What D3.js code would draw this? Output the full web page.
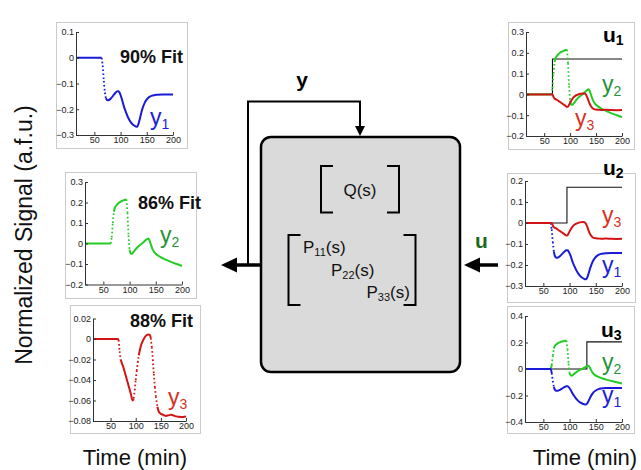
<!DOCTYPE html>
<html lang="en">
<head>
<meta charset="UTF-8">
<title>Model fits and block diagram</title>
<script src="https://cdn.jsdelivr.net/npm/d3@7"></script>
<style>
  body { margin: 0; background: #fff; }
  svg { display: block; font-family: "Liberation Sans", Arial, Helvetica, sans-serif; }
</style>
</head>
<body>
<div id="figure"></div>
<script>
// ---------------------------------------------------------------- data
// sampled time (min) and the three normalized outputs read off the plots
var time = [15, 40, 64, 66, 68, 70, 72, 75, 78, 82, 86, 90, 94, 96, 98, 100, 102, 104, 106, 110,
            115, 120, 125, 128, 130, 132, 134, 136, 138, 140, 143, 146, 150, 155, 160, 165, 170, 180, 190, 200];
var y1 = [0, 0, 0, -0.03, -0.09, -0.135, -0.157, -0.165, -0.164, -0.157, -0.147, -0.137, -0.13, -0.13, -0.135, -0.145, -0.157, -0.172, -0.187, -0.21,
          -0.235, -0.252, -0.262, -0.266, -0.268, -0.267, -0.258, -0.243, -0.226, -0.21, -0.19, -0.175, -0.162, -0.152, -0.147, -0.145, -0.144, -0.143, -0.143, -0.143];
var y2 = [0, 0, 0, 0.03, 0.1, 0.155, 0.175, 0.186, 0.195, 0.203, 0.208, 0.212, 0.215, 0.15, 0.04, -0.03, -0.048, -0.05, -0.046, -0.033,
          -0.018, -0.007, 0.003, 0.01, 0.015, 0.019, 0.023, 0.025, 0.015, 0, -0.022, -0.038, -0.05, -0.06, -0.068, -0.074, -0.08, -0.091, -0.1, -0.11];
var y3 = [0, 0, 0, -0.001, -0.012, -0.02, -0.023, -0.027, -0.032, -0.039, -0.046, -0.053, -0.06, -0.058, -0.05, -0.04, -0.031, -0.023, -0.016, -0.007,
          -0.001, 0.003, 0.0045, 0.004, 0.001, -0.008, -0.02, -0.034, -0.047, -0.056, -0.066, -0.071, -0.073, -0.074, -0.075, -0.0745, -0.074, -0.0755, -0.076, -0.0755];

// step inputs
var u1Time = [15, 66, 66, 200], u1 = [0, 0, 0.17, 0.17];
var u2Time = [15, 95, 95, 200], u2 = [0, 0, 0.17, 0.17];
var u3Time = [15, 133, 133, 200], u3 = [0, 0, 0.205, 0.205];

var fitLabels = ["90% Fit", "86% Fit", "88% Fit"];
var timeTicks = [50, 100, 150, 200];
var ticksL1 = [-0.3, -0.2, -0.1, 0, 0.1];
var ticksL2 = [-0.2, -0.1, 0, 0.1, 0.2, 0.3];
var ticksL3 = [-0.08, -0.06, -0.04, -0.02, 0, 0.02];
var ticksR1 = [-0.2, -0.1, 0, 0.1, 0.2, 0.3];
var ticksR2 = [-0.3, -0.2, -0.1, 0, 0.1, 0.2];
var ticksR3 = [-0.4, -0.2, 0, 0.2, 0.4];

// ---------------------------------------------------------------- setup
var W = 641, H = 470;
var svg = d3.select("#figure").append("svg").attr("width", W).attr("height", H);

var series = { y1: y1, y2: y2, y3: y3 };
var lineColor = { y1: "#1a1ad8", y2: "#25cc25", y3: "#d21414" };
var tagColor = { y1: "#2020dd", y2: "#23943a", y3: "#d8321f" };

var panels = [
  { frame: [56, 22, 187, 148], xr: [76, 173], yd: [-0.3, 0.1], yr: [135, 32], ticks: ticksL1,
    lines: ["y1"], fit: [fitLabels[0], 120, 62.5], tags: [["y1", 150, 124.5]] },
  { frame: [65, 172, 196, 298], xr: [85, 182], yd: [-0.2, 0.3], yr: [284.5, 182], ticks: ticksL2,
    lines: ["y2"], fit: [fitLabels[1], 138, 209], tags: [["y2", 160, 242.5]] },
  { frame: [70, 305, 200, 433], xr: [93, 186], yd: [-0.08, 0.02], yr: [421, 318.5], ticks: ticksL3,
    lines: ["y3"], fit: [fitLabels[2], 130, 327], tags: [["y3", 168, 405]] },
  { frame: [508, 22, 634, 149], xr: [526, 622], yd: [-0.2, 0.3], yr: [136, 32], ticks: ticksR1,
    input: [u1Time, u1, "u", "1", 603, 41.5], lines: ["y2", "y3"], tags: [["y2", 602, 92], ["y3", 575, 125.5]] },
  { frame: [507, 173, 635, 302], xr: [525, 622], yd: [-0.3, 0.2], yr: [286, 181], ticks: ticksR2,
    input: [u2Time, u2, "u", "2", 603, 175], lines: ["y1", "y3"], tags: [["y3", 602, 223], ["y1", 602, 273]] },
  { frame: [507, 306, 634, 433], xr: [525, 622], yd: [-0.4, 0.4], yr: [422, 316], ticks: ticksR3,
    input: [u3Time, u3, "u", "3", 601, 336.5], lines: ["y2", "y1"], tags: [["y2", 602, 370], ["y1", 602, 403]] }
];

var fmt = function(d) { return d === 0 ? "0" : d3.format("~g")(d); };

function subText(g, x, y, main, sub, size, subSize, color, weight, shift) {
  var t = g.append("text")
    .attr("x", x).attr("y", y)
    .attr("fill", color)
    .style("font-size", size + "px")
    .style("font-weight", weight)
    .text(main);
  t.append("tspan")
    .attr("dy", shift)
    .style("font-size", subSize + "px")
    .text(sub);
  return t;
}

// ---------------------------------------------------------------- panels
panels.forEach(function(p) {
  var g = svg.append("g");
  var x = d3.scaleLinear().domain([15, 200]).range(p.xr);
  var y = d3.scaleLinear().domain(p.yd).range(p.yr);

  g.append("rect")
    .attr("x", p.frame[0] + 0.5).attr("y", p.frame[1] + 0.5)
    .attr("width", p.frame[2] - p.frame[0]).attr("height", p.frame[3] - p.frame[1])
    .attr("fill", "#fff").attr("stroke", "#cbcbcb");

  // input step
  if (p.input) {
    var inp = p.input[0].map(function(t, i) { return [t, p.input[1][i]]; });
    g.append("path")
      .attr("d", d3.line().x(function(d) { return x(d[0]); }).y(function(d) { return y(d[1]); })(inp))
      .attr("fill", "none").attr("stroke", "#111").attr("stroke-width", 1.1);
  }

  // outputs: steep stretches drawn as spaced dots, the rest solid
  p.lines.forEach(function(key) {
    var pts = time.map(function(t, i) { return [x(t), y(series[key][i])]; });
    var runs = [], cur = [pts[0]], dotted = [];
    for (var i = 1; i < pts.length; i++) {
      var dx = pts[i][0] - pts[i - 1][0], dy = Math.abs(pts[i][1] - pts[i - 1][1]);
      if (dy / dx > 5) {
        if (cur.length > 1) runs.push(cur);
        dotted.push([pts[i - 1], pts[i]]);
        cur = [pts[i]];
      } else {
        cur.push(pts[i]);
      }
    }
    if (cur.length > 1) runs.push(cur);

    var line = d3.line().curve(d3.curveMonotoneX);
    g.selectAll(null).data(runs).enter().append("path")
      .attr("d", line)
      .attr("fill", "none").attr("stroke", lineColor[key])
      .attr("stroke-width", 2).attr("stroke-linejoin", "round");
    g.selectAll(null).data(dotted).enter().append("path")
      .attr("d", d3.line())
      .attr("fill", "none").attr("stroke", lineColor[key])
      .attr("stroke-width", 1.8).attr("stroke-dasharray", "1.6,2.4");
  });

  // axes
  var ax = g.append("g")
    .attr("transform", "translate(0," + p.yr[0] + ")")
    .call(d3.axisBottom(x).tickValues(timeTicks).tickSizeInner(-3).tickSizeOuter(0).tickPadding(2));
  var ay = g.append("g")
    .attr("transform", "translate(" + p.xr[0] + ",0)")
    .call(d3.axisLeft(y).tickValues(p.ticks).tickFormat(fmt).tickSizeInner(-3).tickSizeOuter(0).tickPadding(2));
  [ax, ay].forEach(function(a) {
    a.attr("font-family", null).attr("font-size", null);
    a.select(".domain").attr("stroke", "#333");
    a.selectAll(".tick line").attr("stroke", "#333");
    a.selectAll(".tick text").attr("fill", "#222").style("font-size", "9px");
  });

  if (p.fit) {
    g.append("text")
      .attr("x", p.fit[1]).attr("y", p.fit[2])
      .style("font-size", "18px").style("font-weight", "bold")
      .attr("fill", "#111").text(p.fit[0]);
  }
  if (p.input) {
    subText(g, p.input[4], p.input[5], p.input[2], p.input[3], 21, 14, "#000", "bold", 3);
  }
  p.tags.forEach(function(tg) {
    subText(g, tg[1], tg[2], tg[0].charAt(0), tg[0].charAt(1), 23, 14, tagColor[tg[0]], "normal", 4);
  });
});

// ---------------------------------------------------------------- block diagram
var box = { x0: 261, y0: 137, x1: 460, y1: 372 };
var dg = svg.append("g");

dg.append("rect")
  .attr("x", box.x0).attr("y", box.y0)
  .attr("width", box.x1 - box.x0).attr("height", box.y1 - box.y0)
  .attr("rx", 10).attr("ry", 10)
  .attr("fill", "#dadada").attr("stroke", "#000").attr("stroke-width", 2.5);

// feedback loop y
dg.append("path")
  .attr("d", "M" + box.x0 + ",265H248V101.5H360V127")
  .attr("fill", "none").attr("stroke", "#000").attr("stroke-width", 2);
dg.append("path").attr("d", "M355,126L365,126L360,136Z").attr("fill", "#000");
dg.append("text").attr("x", 302).attr("y", 87).attr("text-anchor", "middle")
  .style("font-size", "21px").style("font-weight", "bold").text("y");

// output arrow
dg.append("path").attr("d", "M" + box.x0 + ",265H232")
  .attr("stroke", "#000").attr("stroke-width", 3.5);
dg.append("path").attr("d", "M221,265L237,257.5L237,272.5Z").attr("fill", "#000");

// input arrow u
dg.append("path").attr("d", "M498,265H475")
  .attr("stroke", "#000").attr("stroke-width", 3.5);
dg.append("path").attr("d", "M464,265L480,257.5L480,272.5Z").attr("fill", "#000");
dg.append("text").attr("x", 481.5).attr("y", 248).attr("text-anchor", "middle")
  .attr("fill", "#1d6a1d").style("font-size", "21px").style("font-weight", "bold").text("u");

// brackets
function bracket(xl, xr, yt, yb, serif) {
  dg.append("path")
    .attr("d", "M" + (xl + serif) + "," + yt + "H" + xl + "V" + yb + "H" + (xl + serif) +
               "M" + (xr - serif) + "," + yt + "H" + xr + "V" + yb + "H" + (xr - serif))
    .attr("fill", "none").attr("stroke", "#000").attr("stroke-width", 2);
}
bracket(321, 399, 166, 212.5, 12);
bracket(288.5, 415.5, 235, 305, 12);

dg.append("text").attr("x", 360).attr("y", 196).attr("text-anchor", "middle")
  .style("font-size", "17px").attr("fill", "#111").text("Q(s)");

[["11", 303, 252.5], ["22", 331, 276], ["33", 366.5, 297.5]].forEach(function(e) {
  var t = dg.append("text").attr("x", e[1]).attr("y", e[2])
    .style("font-size", "17px").attr("fill", "#111").text("P");
  t.append("tspan").attr("dy", 3).style("font-size", "11px").text(e[0]);
  t.append("tspan").attr("dy", -3).text("(s)");
});

// ---------------------------------------------------------------- axis titles
svg.append("text")
  .attr("transform", "translate(32,235) rotate(-90)")
  .attr("text-anchor", "middle")
  .style("font-size", "23px").attr("fill", "#111")
  .text("Normalized Signal (a.f.u.)");

[135, 585].forEach(function(cx) {
  svg.append("text").attr("x", cx).attr("y", 465).attr("text-anchor", "middle")
    .style("font-size", "22px").attr("fill", "#111").text("Time (min)");
});
</script>
</body>
</html>
